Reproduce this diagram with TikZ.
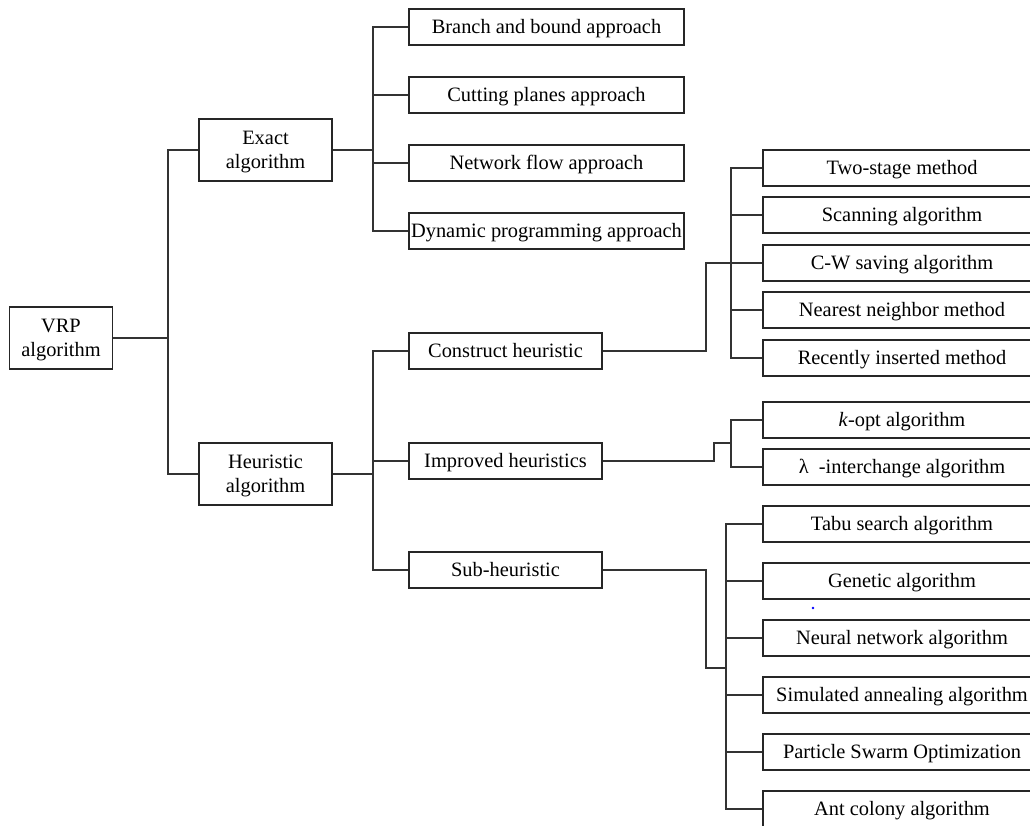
\documentclass[tikz,border=0pt]{standalone}
\usepackage{fontspec}
\setmainfont{Liberation Serif}
\begin{document}
\begin{tikzpicture}[x=1pt,y=-1pt,
  box/.style={draw=black!85,line width=1.3pt,rectangle,inner sep=0pt,
    minimum height=36pt,font=\fontsize{20.4}{24}\selectfont,
    text height=14.2pt,text depth=0.6pt},
  bigbox/.style={draw=black!85,line width=1.3pt,rectangle,inner sep=0pt,
    minimum height=62pt,align=center,font=\fontsize{20.4}{24}\selectfont,
    text depth=0pt},
  link/.style={draw=black!80,line width=1.2pt}]
\useasboundingbox (0,0) rectangle (1030,825);
\clip (0,0) rectangle (1030,825);

% root and first level
\node[bigbox,minimum width=103pt] (vrp) at (61,338) {VRP\\algorithm};
\node[bigbox,minimum width=133pt] (exact) at (265.5,150) {Exact\\algorithm};
\node[bigbox,minimum width=133pt] (heur) at (265.5,474) {Heuristic\\algorithm};

% exact methods
\node[box,minimum width=275pt] (branch) at (546.5,27) {Branch and bound approach};
\node[box,minimum width=275pt] (cut) at (546.5,95) {Cutting planes approach};
\node[box,minimum width=275pt] (net) at (546.5,163) {Network flow approach};
\node[box,minimum width=275pt] (dyn) at (546.5,231) {Dynamic programming approach};

% heuristic families
\node[box,minimum width=193pt] (cons) at (505.5,351) {Construct heuristic};
\node[box,minimum width=193pt] (imp) at (505.5,461) {Improved heuristics};
\node[box,minimum width=193pt] (sub) at (505.5,570) {Sub-heuristic};

% leaves
\tikzset{leaf/.style={box,minimum width=278pt}}
\node[leaf] (two) at (902,168) {Two-stage method};
\node[leaf] (scan) at (902,215) {Scanning algorithm};
\node[leaf] (cw) at (902,263) {C-W saving algorithm};
\node[leaf] (near) at (902,310) {Nearest neighbor method};
\node[leaf] (rec) at (902,358) {Recently inserted method};
\node[leaf] (kopt) at (902,420) {\textit{k}-opt algorithm};
\node[leaf] (lam) at (902,467) {λ\ \ -interchange algorithm};
\node[leaf] (tabu) at (902,524) {Tabu search algorithm};
\node[leaf] (gen) at (902,581) {Genetic algorithm};
\node[leaf] (neur) at (902,638) {Neural network algorithm};
\node[leaf] (sim) at (902,695) {Simulated annealing algorithm};
\node[leaf] (pso) at (902,752) {Particle Swarm Optimization};
\node[leaf] (ant) at (902,809) {Ant colony algorithm};

% junction points
\coordinate (t1) at (168,338);
\coordinate (t2) at (373,150);
\coordinate (t3) at (373,474);
\coordinate (j1) at (706,263);
\coordinate (t4) at (731,263);
\coordinate (j2) at (714,443);
\coordinate (t5) at (731,443);
\coordinate (j3) at (706,668);
\coordinate (t6) at (726,668);

% connectors
\draw[link] (vrp.east) -- (t1);
\draw[link] (exact.west) -| (t1) |- (heur.west);

\draw[link] (exact.east) -- (t2);
\draw[link] (branch.west) -| (t2) |- (dyn.west);
\draw[link] (t2 |- cut.west) -- (cut.west);
\draw[link] (t2 |- net.west) -- (net.west);

\draw[link] (heur.east) -- (t3);
\draw[link] (cons.west) -| (t3) |- (sub.west);
\draw[link] (t3 |- imp.west) -- (imp.west);

\draw[link] (cons.east) -| (j1) -- (cw.west);
\draw[link] (two.west) -| (t4) |- (rec.west);
\draw[link] (t4 |- scan.west) -- (scan.west);
\draw[link] (t4 |- near.west) -- (near.west);

\draw[link] (imp.east) -| (j2) -- (t5);
\draw[link] (kopt.west) -| (t5) |- (lam.west);

\draw[link] (sub.east) -| (j3) -- (t6);
\draw[link] (tabu.west) -| (t6) |- (ant.west);
\draw[link] (t6 |- gen.west) -- (gen.west);
\draw[link] (t6 |- neur.west) -- (neur.west);
\draw[link] (t6 |- sim.west) -- (sim.west);
\draw[link] (t6 |- pso.west) -- (pso.west);

% stray mark
\fill[blue] (813,608) circle (1.3pt);
\end{tikzpicture}
\end{document}
